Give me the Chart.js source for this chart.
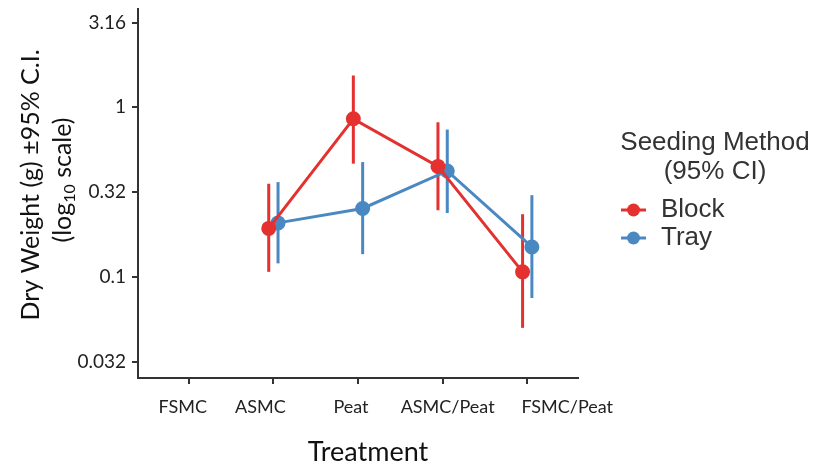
<!DOCTYPE html>
<html>
<head>
<meta charset="utf-8">
<script src="https://cdn.jsdelivr.net/npm/chart.js@4/dist/chart.umd.min.js"></script>
<style>
  html, body { margin: 0; padding: 0; background: #fff; }
  #wrap { width: 814px; height: 467px; position: relative; }
</style>
</head>
<body>
<div id="wrap"><canvas id="myChart"></canvas></div>
<script>
// data
var treatments = ['FSMC', 'ASMC', 'Peat', 'ASMC/Peat', 'FSMC/Peat'];
var blockMean = [null, 0.193, 0.855, 0.448, 0.107];
var blockLow  = [null, 0.107, 0.465, 0.247, 0.050];
var blockHigh = [null, 0.354, 1.54, 0.816, 0.234];
var trayMean  = [null, 0.208, 0.253, 0.421, 0.150];
var trayLow   = [null, 0.120, 0.136, 0.238, 0.075];
var trayHigh  = [null, 0.362, 0.475, 0.739, 0.303];
var yTicks = [0.0316, 0.1, 0.316, 1, 3.162];
var yTickLabels = ['0.032', '0.1', '0.32', '1', '3.16'];

var RED = '#e4312f';
var BLUE = '#4a88c2';
var AXIS = '#333333';
var DODGE = 0.055;
// x 라벨 위치 보정 (px)
var LABEL_SHIFT = [-6, -13, -7, 5, 40];

function pts(vals, shift) {
  var out = [];
  vals.forEach(function (v, i) {
    if (v !== null) out.push({ x: i + shift, y: v });
  });
  return out;
}

// 오차막대
var errorBars = {
  id: 'errorBars',
  beforeDatasetsDraw: function (chart) {
    var ctx = chart.ctx, ys = chart.scales.y;
    chart.data.datasets.forEach(function (ds, di) {
      var meta = chart.getDatasetMeta(di);
      ctx.save();
      ctx.strokeStyle = ds.borderColor;
      ctx.lineWidth = 3;
      meta.data.forEach(function (el, j) {
        var lo = ds.lows[j], hi = ds.highs[j];
        ctx.beginPath();
        ctx.moveTo(el.x, ys.getPixelForValue(lo));
        ctx.lineTo(el.x, ys.getPixelForValue(hi));
        ctx.stroke();
      });
      ctx.restore();
    });
  }
};

// 축 제목 + x 라벨 + 범례
var extras = {
  id: 'extras',
  afterDraw: function (chart) {
    var ctx = chart.ctx, xs = chart.scales.x;
    ctx.save();
    ctx.fillStyle = '#222';
    ctx.textAlign = 'center';
    ctx.textBaseline = 'middle';

    // x tick labels
    ctx.font = '18px Lato';
    treatments.forEach(function (t, i) {
      ctx.fillText(t, xs.getPixelForValue(i) + LABEL_SHIFT[i], 407);
    });

    // x title
    ctx.fillStyle = '#111';
    ctx.font = '27px Lato';
    ctx.fillText('Treatment', 368, 452);

    // y title (rotated)
    ctx.save();
    ctx.translate(31, 185);
    ctx.rotate(-Math.PI / 2);
    ctx.font = '25px Lato';
    ctx.fillText('Dry Weight (g) \u00b195% C.I.', 0, 0);
    ctx.restore();

    ctx.save();
    ctx.translate(63, 180);
    ctx.rotate(-Math.PI / 2);
    ctx.font = '25px Lato';
    var a = '(log', b = '10', c = ' scale)';
    var wa = ctx.measureText(a).width, wc = ctx.measureText(c).width;
    ctx.font = '16px Lato';
    var wb = ctx.measureText(b).width;
    var x0 = -(wa + wb + wc) / 2;
    ctx.textAlign = 'left';
    ctx.font = '25px Lato';
    ctx.fillText(a, x0, 0);
    ctx.font = '16px Lato';
    ctx.fillText(b, x0 + wa, 7);
    ctx.font = '25px Lato';
    ctx.fillText(c, x0 + wa + wb, 0);
    ctx.restore();

    // legend
    ctx.fillStyle = '#333';
    ctx.font = '26px "Liberation Sans"';
    ctx.textAlign = 'center';
    ctx.fillText('Seeding Method', 715, 143);
    ctx.fillText('(95% CI)', 715, 172);
    var items = [['Block', RED, 210], ['Tray', BLUE, 238]];
    items.forEach(function (it) {
      ctx.strokeStyle = it[1];
      ctx.fillStyle = it[1];
      ctx.lineWidth = 3;
      ctx.beginPath();
      ctx.moveTo(621, it[2]);
      ctx.lineTo(646, it[2]);
      ctx.stroke();
      ctx.beginPath();
      ctx.arc(633.5, it[2], 6.5, 0, Math.PI * 2);
      ctx.fill();
      ctx.fillStyle = '#333';
      ctx.textAlign = 'left';
      ctx.fillText(it[0], 661, it[2]);
    });
    ctx.restore();
  }
};

const ctx = document.getElementById('myChart');

new Chart(ctx, {
  type: 'line',
  data: {
    datasets: [
      {
        label: 'Block',
        data: pts(blockMean, -DODGE),
        lows: blockLow.filter(function (v) { return v !== null; }),
        highs: blockHigh.filter(function (v) { return v !== null; }),
        borderColor: RED,
        backgroundColor: RED,
        borderWidth: 3,
        pointRadius: 6,
        pointHoverRadius: 6,
        tension: 0
      },
      {
        label: 'Tray',
        data: pts(trayMean, DODGE),
        lows: trayLow.filter(function (v) { return v !== null; }),
        highs: trayHigh.filter(function (v) { return v !== null; }),
        borderColor: BLUE,
        backgroundColor: BLUE,
        borderWidth: 3,
        pointRadius: 6,
        pointHoverRadius: 6,
        tension: 0
      }
    ]
  },
  options: {
    responsive: true,
    maintainAspectRatio: false,
    animation: false,
    layout: { padding: { top: 0, right: 236, left: 0, bottom: 0 } },
    plugins: {
      legend: { display: false },
      tooltip: { enabled: false }
    },
    scales: {
      x: {
        type: 'linear',
        min: -0.6,
        max: 4.6,
        afterBuildTicks: function (s) {
          s.ticks = treatments.map(function (t, i) { return { value: i }; });
        },
        afterFit: function (s) {
          s.height = 89;
          s.paddingLeft = 0;
          s.paddingRight = 0;
        },
        ticks: { display: false },
        grid: { drawOnChartArea: false, color: AXIS, lineWidth: 2, tickLength: 6 },
        border: { color: AXIS, width: 2 }
      },
      y: {
        type: 'logarithmic',
        min: 0.0253,
        max: 3.8,
        afterBuildTicks: function (s) {
          s.ticks = yTicks.map(function (v) { return { value: v }; });
        },
        afterFit: function (s) {
          s.width = 138;
          s.paddingTop = 0;
          s.paddingBottom = 0;
        },
        ticks: {
          callback: function (v, i) { return yTickLabels[i]; },
          color: '#222',
          font: { family: 'Lato', size: 19 },
          padding: 6
        },
        grid: { drawOnChartArea: false, color: AXIS, lineWidth: 2, tickLength: 6 },
        border: { color: AXIS, width: 2 }
      }
    }
  },
  plugins: [errorBars, extras]
});
</script>
</body>
</html>
